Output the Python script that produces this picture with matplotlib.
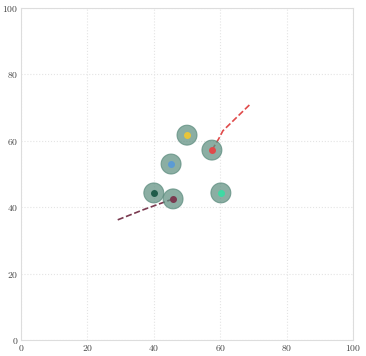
import matplotlib
matplotlib.use("Agg")
import matplotlib.pyplot as plt
from matplotlib.patches import Circle

plt.rcParams['font.family'] = 'serif'
plt.rcParams['font.serif'] = ['cmr10']
plt.rcParams['axes.formatter.use_mathtext'] = True

# agent positions
agent_x = [50.0, 57.5, 45.2, 40.0, 45.8, 60.2]
agent_y = [61.7, 57.2, 53.0, 44.3, 42.5, 44.3]
agent_colors = ['#e8c53a', '#e04a4a', '#5b9bd5', '#1f5c4a', '#7a3a50', '#3fd9a4']
agent_radius = 3.0

# trajectories
red_path_x = [57.5, 59.5, 60.8, 69.0]
red_path_y = [57.2, 60.5, 63.0, 71.0]
maroon_path_x = [45.8, 37.0, 28.9]
maroon_path_y = [42.5, 39.3, 36.1]

ticks = [0, 20, 40, 60, 80, 100]

fig = plt.figure(figsize=(3.66, 3.56), dpi=100)
ax = fig.add_axes([0.0574, 0.045, 0.9071, 0.9325])

ax.plot(red_path_x, red_path_y, color='#e04a4a', ls='--', lw=1.2, zorder=2)
ax.plot(maroon_path_x, maroon_path_y, color='#7a3a50', ls='--', lw=1.2, zorder=2)

for x, y, c in zip(agent_x, agent_y, agent_colors):
    ax.add_patch(Circle((x, y), agent_radius, facecolor='#5e8f80', edgecolor='#5a8a7c',
                        alpha=0.72, lw=0.8, zorder=3))
    ax.plot(x, y, 'o', color=c, ms=4, zorder=4)

ax.set_xlim(0, 100)
ax.set_ylim(0, 100)
ax.set_xticks(ticks)
ax.set_yticks(ticks)
ax.tick_params(length=0, labelsize=7, colors='#444444', pad=2)
ax.grid(True, color='#e4e4e4', ls=':', lw=0.8)
ax.set_axisbelow(True)
for s in ax.spines.values():
    s.set_color('#dddddd')

plt.savefig('out.png', dpi=100)
